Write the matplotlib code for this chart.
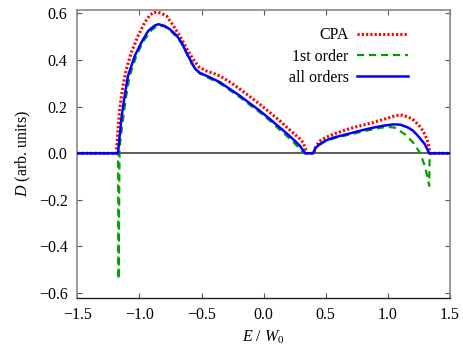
import numpy as np
import matplotlib
matplotlib.use("Agg")
import matplotlib.pyplot as plt
from matplotlib.ticker import FuncFormatter, MultipleLocator

plt.rcParams['font.family'] = ['Liberation Serif', 'DejaVu Serif']
plt.rcParams['mathtext.fontset'] = 'custom'
plt.rcParams['mathtext.rm'] = 'Liberation Serif'
plt.rcParams['mathtext.it'] = 'Liberation Serif:italic'

# CPA
x_cpa = [-1.5, -1.186, -1.172, -1.159, -1.145, -1.132, -1.106, -1.066, -1.012, -0.958,
         -0.92, -0.889, -0.85, -0.81, -0.781, -0.73, -0.674, -0.62, -0.567, -0.52,
         -0.459, -0.40, -0.352, -0.27, -0.19, -0.11, -0.03, 0.05, 0.131, 0.21,
         0.292, 0.318, 0.35, 0.405, 0.42, 0.453, 0.50, 0.56, 0.64, 0.72,
         0.80, 0.881, 0.96, 1.055, 1.10, 1.163, 1.20, 1.243, 1.27, 1.297,
         1.323, 1.34, 1.5]
y_cpa = [0, 0, 0.103, 0.189, 0.245, 0.289, 0.36, 0.432, 0.503, 0.561,
         0.59, 0.604, 0.606, 0.597, 0.589, 0.55, 0.503, 0.45, 0.403, 0.37,
         0.353, 0.342, 0.332, 0.305, 0.275, 0.243, 0.21, 0.175, 0.139, 0.10,
         0.062, 0.045, 0.0, 0.0, 0.03, 0.053, 0.068, 0.082, 0.097, 0.11,
         0.121, 0.132, 0.145, 0.16, 0.165, 0.156, 0.145, 0.124, 0.106, 0.082,
         0.046, 0.0, 0.0]

# 1st order
x_first = [-1.5, -1.172, -1.168, -1.160, -1.146, -1.132, -1.106, -1.079, -1.025, -0.97,
           -0.90, -0.85, -0.80, -0.754, -0.70, -0.66, -0.62, -0.58, -0.54, -0.513,
           -0.45, -0.352, -0.27, -0.19, -0.11, -0.03, 0.05, 0.131, 0.19, 0.238,
           0.29, 0.325, 0.40, 0.415, 0.453, 0.50, 0.56, 0.64, 0.72, 0.80,
           0.881, 0.96, 1.00, 1.055, 1.136, 1.203, 1.257, 1.297, 1.323, 1.332,
           1.336, 1.5]
y_first = [0, 0, -0.54, 0.02, 0.09, 0.146, 0.246, 0.332, 0.418, 0.48,
           0.53, 0.548, 0.545, 0.528, 0.50, 0.47, 0.43, 0.385, 0.355, 0.342,
           0.325, 0.30, 0.27, 0.24, 0.207, 0.175, 0.14, 0.10, 0.072, 0.048,
           0.02, 0.0, 0.0, 0.02, 0.037, 0.052, 0.063, 0.074, 0.084, 0.094,
           0.103, 0.111, 0.113, 0.11, 0.082, 0.046, 0.003, -0.054, -0.112, -0.14,
           0.0, 0.0]

# all orders
x_all = [-1.5, -1.172, -1.165, -1.156, -1.146, -1.119, -1.092, -1.038, -0.985, -0.93,
         -0.877, -0.848, -0.80, -0.754, -0.70, -0.66, -0.62, -0.58, -0.55, -0.513,
         -0.45, -0.352, -0.27, -0.19, -0.11, -0.03, 0.05, 0.131, 0.19, 0.238,
         0.29, 0.335, 0.398, 0.415, 0.453, 0.50, 0.56, 0.64, 0.72, 0.80,
         0.881, 0.96, 1.042, 1.10, 1.163, 1.20, 1.243, 1.297, 1.332, 1.5]
y_all = [0, 0, 0.046, 0.089, 0.146, 0.246, 0.332, 0.418, 0.475, 0.525,
         0.548, 0.554, 0.547, 0.532, 0.505, 0.475, 0.43, 0.39, 0.362, 0.345,
         0.330, 0.305, 0.275, 0.246, 0.214, 0.182, 0.147, 0.11, 0.083, 0.06,
         0.033, 0.0, 0.0, 0.022, 0.04, 0.055, 0.067, 0.078, 0.089, 0.10,
         0.11, 0.118, 0.124, 0.123, 0.11, 0.098, 0.074, 0.039, 0.0, 0.0]

fig = plt.figure(figsize=(4.63, 3.57), dpi=100)
ax = fig.add_axes([0.167, 0.166, 0.805, 0.806])

ax.axhline(0, color='#303030', lw=1.1, zorder=1)
ax.plot(x_cpa, y_cpa, color='#ff0000', lw=2.2, ls=(0, (0.7, 0.7)), label='CPA', zorder=2)
ax.plot(x_first, y_first, color='#00a000', lw=1.6, ls=(0, (3.2, 2.2)), label='1st order', zorder=3)
ax.plot(x_all, y_all, color='#0000ff', lw=1.8, label='all orders', zorder=4)

ax.set_xlim(-1.5, 1.5)
ax.set_ylim(-0.62, 0.615)
ax.xaxis.set_major_locator(MultipleLocator(0.5))
ax.yaxis.set_major_locator(MultipleLocator(0.2))
fmt = FuncFormatter(lambda v, p: ('%.1f' % v).replace('-', '\u2212'))
ax.xaxis.set_major_formatter(fmt)
ax.yaxis.set_major_formatter(fmt)
ax.tick_params(direction='in', length=3.5, width=0.8, color='#555555',
               top=True, right=True, labelsize=11.5, pad=7)

for s in ['left', 'top', 'right']:
    ax.spines[s].set_color('#888888')
    ax.spines[s].set_linewidth(1.2)
ax.spines['bottom'].set_color('#222222')
ax.spines['bottom'].set_linewidth(1.0)

ax.set_xlabel('$E$ / $W_0$', fontsize=11.5, labelpad=4)
ax.set_ylabel('$D$ (arb. units)', fontsize=11.5, labelpad=4)

ax.legend(loc='upper right', bbox_to_anchor=(0.925, 0.99), frameon=False,
          markerfirst=False, handlelength=3.2, labelspacing=0.33, fontsize=11.5,
          handletextpad=0.5)

fig.savefig('out.png', dpi=100)
